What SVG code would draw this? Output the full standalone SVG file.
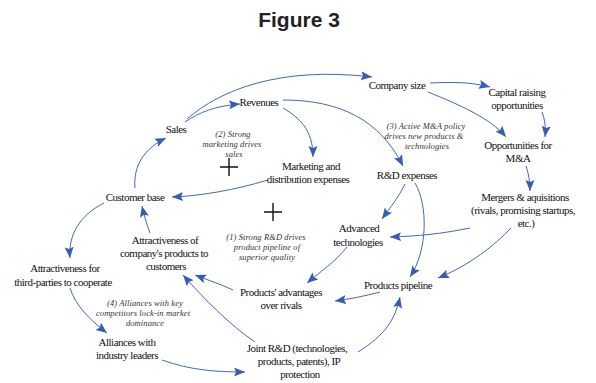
<svg xmlns="http://www.w3.org/2000/svg" width="596" height="383" viewBox="0 0 596 383">
<style>
.t{font-family:"Liberation Serif","Times New Roman",serif;font-size:11px;fill:#111;text-anchor:middle;letter-spacing:-0.5px}
.n{font-family:"Liberation Serif","Times New Roman",serif;font-size:8.5px;font-style:italic;fill:#333;text-anchor:middle;letter-spacing:0.1px}
.c path{fill:none;stroke:#4566bb;stroke-width:1}
.p{stroke:#111;stroke-width:1.4}
</style>
<defs>
<marker id="a" markerUnits="userSpaceOnUse" markerWidth="12" markerHeight="10" refX="11" refY="4.5" orient="auto">
<path d="M0,0 L11,4.5 L0,9 L2,4.5 z" fill="#3a5bb5"/>
</marker>
</defs>
<rect width="596" height="383" fill="#fff"/>
<text x="299" y="27" style="font-family:'Liberation Sans',Arial,sans-serif;font-size:21px;font-weight:bold;fill:#222;text-anchor:middle">Figure 3</text>

<g class="c" id="connectors">
<path marker-end="url(#a)" d="M187,119 C220,90 280,66 372,77"/>
<path marker-end="url(#a)" d="M185,122 C200,112 215,106 240,104"/>
<path marker-end="url(#a)" d="M283,108 C300,118 313,130 313,157"/>
<path marker-end="url(#a)" d="M283,100 C340,100 380,120 403,166"/>
<path marker-end="url(#a)" d="M430,83 C455,82 470,82 490,87"/>
<path marker-end="url(#a)" d="M428,92 C460,105 490,118 506,137"/>
<path marker-end="url(#a)" d="M542,112 C545,120 546,128 545,137"/>
<path marker-end="url(#a)" d="M526,166 C529,175 530,183 530,191"/>
<path marker-end="url(#a)" d="M405,184 C398,198 390,208 382,219"/>
<path marker-end="url(#a)" d="M415,183 C428,205 428,250 410,277"/>
<path marker-end="url(#a)" d="M470,228 C440,234 420,236 390,237"/>
<path marker-end="url(#a)" d="M511,228 C495,245 470,265 438,278"/>
<path marker-end="url(#a)" d="M347,247 C335,262 320,272 307,283"/>
<path marker-end="url(#a)" d="M380,292 C365,296 350,299 335,301"/>
<path marker-end="url(#a)" d="M358,352 C385,335 395,320 400,297"/>
<path marker-end="url(#a)" d="M233,290 C220,284 208,280 195,275"/>
<path marker-end="url(#a)" d="M255,342 C230,325 205,300 183,275"/>
<path marker-end="url(#a)" d="M150,233 C147,225 144,215 142,206"/>
<path marker-end="url(#a)" d="M268,180 C235,190 200,196 172,197"/>
<path marker-end="url(#a)" d="M135,188 C133,165 145,148 166,138"/>
<path marker-end="url(#a)" d="M104,203 C80,215 68,235 70,258"/>
<path marker-end="url(#a)" d="M70,288 C75,305 90,320 107,333"/>
<path marker-end="url(#a)" d="M162,360 C190,370 215,372 245,372"/>
</g>

<g id="company-size"><text class="t" x="397" y="89">Company size</text></g>
<g id="capital-raising"><text class="t" x="517" y="96">Capital raising</text><text class="t" x="517" y="109">opportunities</text></g>
<g id="opportunities-ma"><text class="t" x="518" y="149">Opportunities  for</text><text class="t" x="518" y="162">M&amp;A</text></g>
<g id="mergers"><text class="t" x="525" y="201">Mergers &amp; aquisitions</text><text class="t" x="523" y="214">(rivals, promising startups,</text><text class="t" x="526" y="227">etc.)</text></g>
<g id="rd-expenses"><text class="t" x="407" y="179">R&amp;D expenses</text></g>
<g id="marketing"><text class="t" x="311" y="170">Marketing and</text><text class="t" x="308" y="183">distribution expenses</text></g>
<g id="revenues"><text class="t" x="259" y="106">Revenues</text></g>
<g id="sales"><text class="t" x="176" y="133">Sales</text></g>
<g id="customer-base"><text class="t" x="135" y="201">Customer base</text></g>
<g id="advanced-tech"><text class="t" x="359" y="232">Advanced</text><text class="t" x="358" y="246">technologies</text></g>
<g id="attractiveness-products"><text class="t" x="165" y="244">Attractiveness of</text><text class="t" x="164" y="257">company's products to</text><text class="t" x="166" y="270">customers</text></g>
<g id="attractiveness-third"><text class="t" x="65" y="272">Attractiveness for</text><text class="t" x="63" y="286">third-parties to cooperate</text></g>
<g id="products-advantages"><text class="t" x="281" y="296">Products' advantages</text><text class="t" x="281" y="309">over rivals</text></g>
<g id="products-pipeline"><text class="t" x="398" y="289">Products pipeline</text></g>
<g id="alliances"><text class="t" x="127" y="346">Alliances with</text><text class="t" x="127" y="359">industry leaders</text></g>
<g id="joint-rd"><text class="t" x="297" y="352">Joint R&amp;D (technologies,</text><text class="t" x="299" y="365">products, patents), IP</text><text class="t" x="300" y="378">protection</text></g>

<g id="loop-2"><text class="n" x="233" y="137">(2) Strong</text><text class="n" x="232" y="147">marketing drives</text><text class="n" x="234" y="157">sales</text>
<path class="p" d="M220,167 H238 M229,158 V176"/></g>
<g id="loop-1"><path class="p" d="M264,212 H282 M273,203 V221"/>
<text class="n" x="266" y="240">(1) Strong R&amp;D drives</text><text class="n" x="267" y="250">product pipeline of</text><text class="n" x="267" y="260">superior quality</text></g>
<g id="loop-3"><text class="n" x="426" y="129">(3) Active M&amp;A policy</text><text class="n" x="424" y="139">drives new products &amp;</text><text class="n" x="427" y="149">technologies</text></g>
<g id="loop-4"><text class="n" x="145" y="306">(4) Alliances with key</text><text class="n" x="143" y="316">competitors lock-in market</text><text class="n" x="145" y="326">dominance</text></g>
</svg>
